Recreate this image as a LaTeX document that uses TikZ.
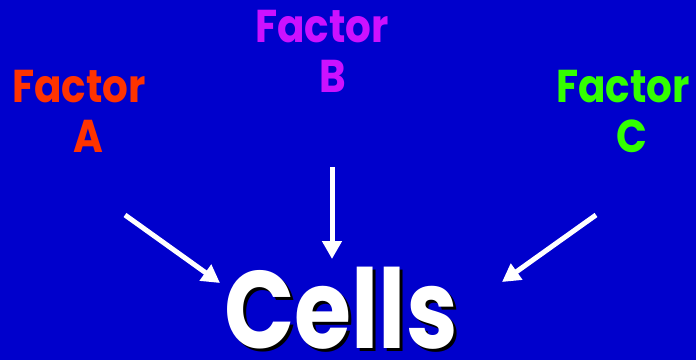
\documentclass[tikz,border=0pt]{standalone}
\usepackage{fontspec}
\setmainfont{Poppins}[BoldFont={Poppins Bold}]
\newfontfamily\lblfont{Poppins}[BoldFont={Poppins Bold},FakeStretch=0.88]
\newfontfamily\cellfont{Poppins}[BoldFont={Poppins Bold},FakeStretch=0.84]
\usetikzlibrary{arrows.meta}
\definecolor{bg}{HTML}{0000CC}
\definecolor{fa}{HTML}{FF3300}
\definecolor{fb}{HTML}{CC11FF}
\definecolor{fc}{HTML}{33FF00}
\begin{document}
\begin{tikzpicture}[x=1pt,y=-1pt,
  lbl/.style={inner sep=0pt,anchor=base,font=\lblfont\fontsize{46}{50}\selectfont\bfseries},
  cellstyle/.style={inner sep=0pt,anchor=base,font=\cellfont\fontsize{110}{120}\selectfont\bfseries},
  arr/.style={draw=white,line width=5pt,-{Triangle[length=18pt,width=19pt]}}]
\fill[bg] (0,0) rectangle (696,360);
\useasboundingbox (0,0) rectangle (696,360);
% Factor A
\node[lbl,text=fa] (fA) at (79,102) {Factor};
\node[lbl,text=fa] (lA) at (88,152) {A};
% Factor B
\node[lbl,text=fb] (fB) at (322,42) {Factor};
\node[lbl,text=fb] (lB) at (333,92) {B};
% Factor C
\node[lbl,text=fc] (fC) at (623,102) {Factor};
\node[lbl,text=fc] (lC) at (632,152) {C};
% Cells
\node[cellstyle,text=black] (cellsShadow) at (344,351) {Cells};
\node[cellstyle,text=white] (cells) at (341,348) {Cells};
% arrows
\coordinate (sA) at (125,215);
\coordinate (tA) at (220,283);
\coordinate (sB) at (332,167);
\coordinate (tB) at (332,259);
\coordinate (sC) at (596,215);
\coordinate (tC) at (502,282);
\draw[arr] (sA) -- (tA);
\draw[arr] (sB) -- (tB);
\draw[arr] (sC) -- (tC);
\end{tikzpicture}
\end{document}
